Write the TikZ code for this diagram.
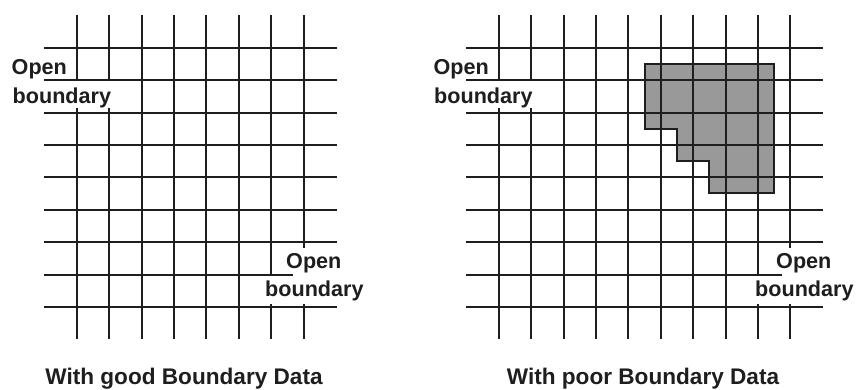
\documentclass[tikz,border=0pt]{standalone}
\usepackage{fontspec}
\setmainfont{Liberation Sans}
\definecolor{ink}{RGB}{30,30,30}
\definecolor{greyfill}{RGB}{153,153,153}
\tikzset{
  gridline/.style={draw=ink, line width=2pt},
  mask/.style={fill=white},
  region/.style={fill=greyfill, draw=ink, line width=2pt},
  lbl/.style={anchor=base west, inner sep=0pt, text=ink, font=\fontsize{21.6}{24}\selectfont\bfseries},
  caption/.style={anchor=base, inner sep=0pt, text=ink, font=\fontsize{22.6}{25}\selectfont\bfseries}
}
\begin{document}
\begin{tikzpicture}[x=1pt,y=-1pt]
\useasboundingbox (0,0) rectangle (857,390);
% ---------- left grid ----------
\foreach \i in {0,...,7} {
  \draw[gridline] ({76.7+32.43*\i},15) -- ({76.7+32.43*\i},339);
}
\foreach \j in {0,...,8} {
  \draw[gridline] (44.3,{47.7+32.41*\j}) -- (336.7,{47.7+32.41*\j});
}
% ---------- right grid ----------
\path[region]
  (644.7,63.9) -- (774.2,63.9) -- (774.2,193.5) -- (709.4,193.5) -- (709.4,161.1)
  -- (677.1,161.1) -- (677.1,128.7) -- (644.7,128.7) -- cycle;
\foreach \i in {0,...,9} {
  \draw[gridline] ({499+32.37*\i},15) -- ({499+32.37*\i},339);
}
\foreach \j in {0,...,8} {
  \draw[gridline] (466.3,{47.7+32.41*\j}) -- (823.3,{47.7+32.41*\j});
}
% ---------- masks behind labels ----------
\fill[mask] (40,81.3) rectangle (127,108.5);
\fill[mask] (486,81.3) rectangle (544,108.5);
\fill[mask] (292.5,248) rectangle (348,276);
\fill[mask] (262,276) rectangle (369,303.5);
\fill[mask] (782,248) rectangle (838,276);
\fill[mask] (752,276) rectangle (857,303.5);
% ---------- labels ----------
\node[lbl] (lopen1) at (11.5,75) {Open};
\node[lbl] (lbound1) at (12.5,103.3) {boundary};
\node[lbl] (lopen2) at (286,268.5) {Open};
\node[lbl] (lbound2) at (265,296.8) {boundary};
\node[lbl] (ropen1) at (433.3,75) {Open};
\node[lbl] (rbound1) at (434,103.3) {boundary};
\node[lbl] (ropen2) at (776,268.5) {Open};
\node[lbl] (rbound2) at (755,296.8) {boundary};
\node[caption] (capl) at (184,384.3) {With good Boundary Data};
\node[caption] (capr) at (643,384.3) {With poor Boundary Data};
\end{tikzpicture}
\end{document}
